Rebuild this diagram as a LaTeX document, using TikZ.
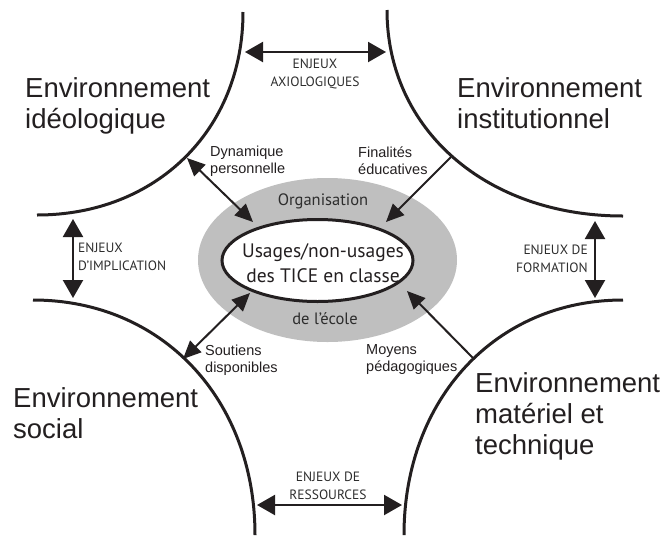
\documentclass[tikz,border=0pt]{standalone}
\usepackage{fontspec}
\setmainfont{Liberation Sans}
\newfontfamily\myr{PT Sans}
\usetikzlibrary{arrows.meta,shapes.geometric}
\definecolor{ink}{RGB}{35,31,32}
\definecolor{halofill}{RGB}{191,191,191}
\definecolor{softink}{RGB}{45,45,45}
\begin{document}
\begin{tikzpicture}[x=1pt,y=-1pt,
  wall/.style={line width=3pt, ink},
  link/.style={line width=2pt, ink, -{Triangle[length=18pt,width=16pt]}},
  twoway/.style={line width=2pt, ink, {Triangle[length=18pt,width=16pt]}-{Triangle[length=18pt,width=16pt]}},
  stake/.style={line width=2.2pt, ink, {Triangle[length=18pt,width=20pt]}-{Triangle[length=18pt,width=20pt]}},
  envlabel/.style={inner sep=0pt, align=left, text=ink, font=\fontsize{27.5}{31}\selectfont, anchor=north west},
  cue/.style={inner sep=0pt, align=left, text=ink, font=\fontsize{14.5}{17}\selectfont, anchor=west},
  stakelabel/.style={inner sep=0pt, text=softink, font=\myr\fontsize{13.5}{18}\selectfont},
  coretext/.style={inner sep=0pt, align=center, text=ink, font=\myr\fontsize{19.5}{25}\selectfont},
  halotext/.style={inner sep=0pt, text=softink, font=\myr\fontsize{16.5}{20}\selectfont}
]
\useasboundingbox (0,0) rectangle (662,539);

% central ellipses
\node[ellipse, fill=halofill, minimum width=259pt, minimum height=164pt, inner sep=0pt] (halo) at (327.5,260) {};
\node[ellipse, draw=ink, line width=3pt, fill=white, minimum width=191pt, minimum height=82pt, inner sep=0pt] (core) at (317.5,260.5) {};
\node[halotext] (org) at (323,201) {Organisation};
\node[coretext] (usage) at (323,263) {Usages/non-usages\\des TICE en classe};
\node[halotext] (ecole) at (325,319) {de l’école};

% environment boundaries
\draw[wall] (243,12) .. controls (243,129.7) and (156.5,215) .. (37,215);
\draw[wall] (387,10) .. controls (387,129.5) and (486.1,216) .. (623,216);
\draw[wall] (33,300) .. controls (161.8,300) and (255,398.7) .. (255,535);
\draw[wall] (623,300) .. controls (496,300) and (404,398.7) .. (404,535);

% environment labels
\node[envlabel] (ideo) at (25,77.3) {Environnement\\idéologique};
\node[envlabel] (inst) at (457,77.3) {Environnement\\institutionnel};
\node[envlabel] (soc) at (13,387.3) {Environnement\\social};
\node[envlabel] (mat) at (475,372.3) {Environnement\\matériel et\\technique};

% stakes arrows
\coordinate (axL) at (245,52);
\coordinate (axR) at (386,52);
\coordinate (imT) at (73,219);
\coordinate (imB) at (73,298);
\coordinate (foT) at (595,221);
\coordinate (foB) at (595,298);
\coordinate (reL) at (257,505);
\coordinate (reR) at (402,505);
\draw[stake] (axL) -- (axR);
\draw[stake] (imT) -- (imB);
\draw[stake] (foT) -- (foB);
\draw[stake] (reL) -- (reR);

\node[stakelabel, align=center] (axio) at (315,74) {ENJEUX\\AXIOLOGIQUES};
\node[stakelabel, align=left, anchor=west] (impl) at (78,256.5) {ENJEUX\\D’IMPLICATION};
\node[stakelabel, align=right, anchor=east] (form) at (588,259) {ENJEUX DE\\FORMATION};
\node[stakelabel, align=center] (ress) at (328,486) {ENJEUX DE\\RESSOURCES};

% links to the centre
\coordinate (dynA) at (187,158);
\coordinate (dynB) at (253,222);
\coordinate (finA) at (451,157);
\coordinate (finB) at (386,222);
\coordinate (souA) at (183,359);
\coordinate (souB) at (250,293);
\coordinate (moyA) at (473,358);
\coordinate (moyB) at (407,291);
\draw[twoway] (dynA) -- (dynB);
\draw[link] (finA) -- (finB);
\draw[twoway] (souA) -- (souB);
\draw[link] (moyA) -- (moyB);

\node[cue] (dyn) at (210,161.5) {Dynamique\\personnelle};
\node[cue] (fin) at (358,161) {Finalités\\éducatives};
\node[cue] (sou) at (205,360) {Soutiens\\disponibles};
\node[cue] (moy) at (366,360) {Moyens\\pédagogiques};
\end{tikzpicture}
\end{document}
